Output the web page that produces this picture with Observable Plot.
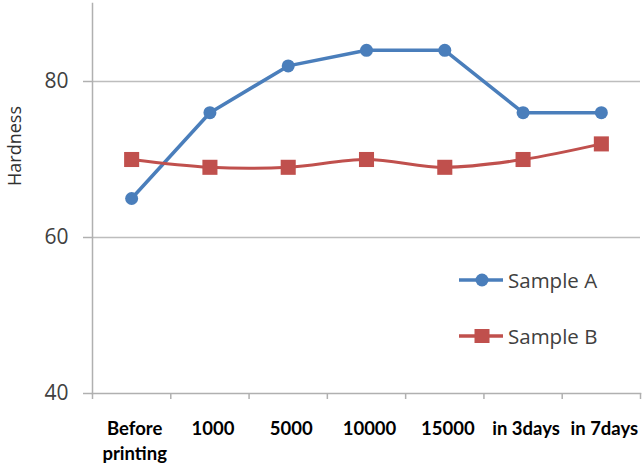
<!DOCTYPE html>
<html>
<head>
<meta charset="utf-8">
<script src="https://cdn.jsdelivr.net/npm/d3@7"></script>
<script src="https://cdn.jsdelivr.net/npm/@observablehq/plot@0.6"></script>
<style>
  html, body { margin: 0; padding: 0; background: #fff; }
  #chart { position: relative; width: 642px; height: 464px; overflow: hidden; }
  .legend { position: absolute; left: 458px; font-family: "Open Sans", sans-serif; font-size: 20.5px; color: #404040; display: flex; align-items: center; }
  .legend svg { margin-right: 4px; }
  .ylabel { position: absolute; left: 14px; top: 146px; transform: translate(-50%, -50%) rotate(-90deg);
    font-family: "Open Sans", sans-serif; font-size: 18px; color: #303030; white-space: nowrap; }
</style>
</head>
<body>
<div id="chart"></div>
<script>
// Hardness over the printing run
const categories = ["Before\nprinting", "1000", "5000", "10000", "15000", "in 3days", "in 7days"];
const sampleA = [65, 76, 82, 84, 84, 76, 76];
const sampleB = [70, 69, 69, 70, 69, 70, 72];
const yTicks = [40, 60, 80];
const yGrid = [60, 80];
const yDomain = [40, 90];
const yTitle = "Hardness";

const blue = "#4A7EBB";
const red = "#C0504D";

const idx = d3.range(categories.length);
const rowsA = idx.map(i => ({i, v: sampleA[i]}));
const rowsB = idx.map(i => ({i, v: sampleB[i]}));
const boundaries = d3.range(categories.length + 1).map(i => i - 0.5);

const chart = Plot.plot({
  width: 642,
  height: 464,
  marginLeft: 92,
  marginRight: 2,
  marginTop: 3,
  marginBottom: 71,
  style: {background: "#fff", overflow: "visible"},
  x: {type: "linear", domain: [-0.5, categories.length - 0.5]},
  y: {domain: yDomain},
  marks: [
    Plot.gridY(yGrid, {stroke: "#bdbdbd", strokeOpacity: 1, strokeWidth: 1.5}),
    Plot.frame({anchor: "left", stroke: "#b0b0b0", strokeWidth: 1.5}),
    Plot.frame({anchor: "bottom", stroke: "#b0b0b0", strokeWidth: 1.5}),
    Plot.axisY(yTicks, {tickSize: 9, tickPadding: 15, stroke: "#b0b0b0", strokeWidth: 1.5,
      fontSize: 21, fontFamily: "Open Sans", fill: "#404040", label: null}),
    Plot.axisX(boundaries, {tickSize: 6, tickFormat: () => "", stroke: "#b0b0b0", strokeWidth: 1.5, label: null}),
    Plot.axisX(idx, {tickSize: 0, tickPadding: 24, tickFormat: i => categories[i], fontSize: 18.5,
      fontWeight: "bold", fontFamily: "Lato", fill: "#000", lineHeight: 1.35, label: null, dx: 3}),
    Plot.line(rowsA, {x: "i", y: "v", stroke: blue, strokeWidth: 3.5}),
    Plot.dot(rowsA, {x: "i", y: "v", fill: blue, r: 6.5, symbol: "circle"}),
    Plot.line(rowsB, {x: "i", y: "v", stroke: red, strokeWidth: 3, curve: "catmull-rom"}),
    Plot.dot(rowsB, {x: "i", y: "v", fill: red, r: 8.5, symbol: "square"})
  ]
});

const root = document.getElementById("chart");
root.appendChild(chart);

// Rotated y-axis title
const title = document.createElement("div");
title.className = "ylabel";
title.textContent = yTitle;
root.appendChild(title);

// Legend placed inside the plot area
const legendItems = [
  {name: "Sample A", color: blue, shape: "circle", top: 266},
  {name: "Sample B", color: red, shape: "square", top: 322}
];
for (const item of legendItems) {
  const div = document.createElement("div");
  div.className = "legend";
  div.style.top = item.top + "px";
  const marker = item.shape === "circle"
    ? `<circle cx="24" cy="14" r="6.5" fill="${item.color}"/>`
    : `<rect x="16.5" y="7" width="15" height="14" fill="${item.color}"/>`;
  div.innerHTML = `<svg width="46" height="28"><line x1="1" x2="45" y1="14" y2="14" stroke="${item.color}" stroke-width="3.5"/>${marker}</svg><span>${item.name}</span>`;
  root.appendChild(div);
}
</script>
</body>
</html>
